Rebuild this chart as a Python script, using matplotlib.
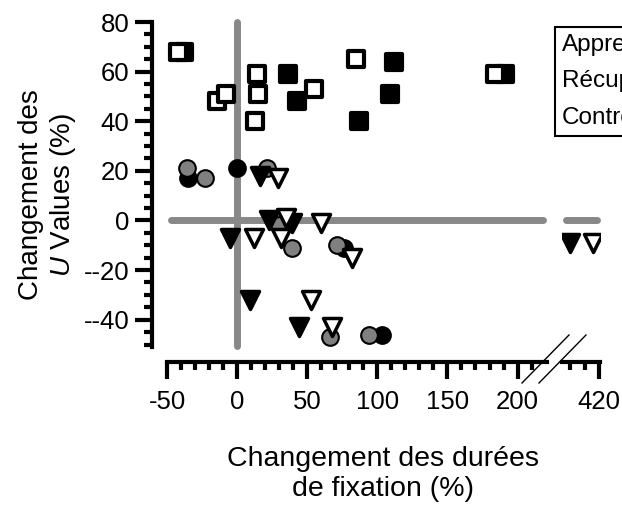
import numpy as np
import matplotlib
matplotlib.use("Agg")
import matplotlib.pyplot as plt
from matplotlib.markers import MarkerStyle
from matplotlib.lines import Line2D

plt.rcParams['font.family'] = ['Liberation Sans', 'DejaVu Sans']
plt.rcParams['mathtext.fontset'] = 'custom'
plt.rcParams['mathtext.rm'] = 'Liberation Sans'
plt.rcParams['mathtext.it'] = 'Liberation Sans:italic'

# data (x: change in fixation durations %, y: change in U values %)
open_sq_x = [-42, -14, -8, 14, 15, 13, 55, 85, 184]
open_sq_y = [68, 48, 51, 59, 51, 40, 53, 65, 59]
fill_sq_x = [-38, 36, 43, 87, 109, 112, 191]
fill_sq_y = [68, 59, 48, 40, 51, 64, 59]
gray_c_x = [-36, -23, 21, 30, 39, 71, 66, 94]
gray_c_y = [21, 17, 21, -2, -11, -10, -47, -46]
black_c_x = [-35, 0, 76, 103]
black_c_y = [17, 21, -11, -46]
black_t_x = [16, 23, 39, -5, 9, 44, 400]
black_t_y = [18, 0, -1, -7, -32, -43, -9]
white_t_x = [29, 35, 31, 60, 12, 82, 53, 68, 416]
white_t_y = [17, 1, -7, -1, -7, -15, -32, -43, -9]

legend_labels = ["Apprentissage", "Récupération", "Contrôle"]
x_major = [-50, 0, 50, 100, 150, 200]
x_labels = ["-50", "0", "50", "100", "150", "200"]
y_major = [-40, -20, 0, 20, 40, 60, 80]
y_labels = ["--40", "--20", "0", "20", "40", "60", "80"]

W, H = 622, 505
fig = plt.figure(figsize=(W / 100, H / 100), dpi=100)
ax = fig.add_axes([167 / W, 1 - 347 / H, 380 / W, 325 / H])
ax2 = fig.add_axes([562 / W, 1 - 347 / H, 38 / W, 325 / H])
ax.set_xlim(-50, 221)
ax2.set_xlim(394, 421)
for a in (ax, ax2):
    a.set_ylim(-51, 80)
    a.patch.set_alpha(0)
    for s in ['top', 'right']:
        a.spines[s].set_visible(False)
    a.spines['bottom'].set_position(('outward', 11))
    a.spines['bottom'].set_linewidth(3)
    a.spines['bottom'].set_capstyle('projecting')
    a.tick_params(which='major', length=12, width=3, labelsize=18.5, pad=8)
    a.tick_params(which='minor', length=6, width=3)
ax.spines['left'].set_position(('outward', 11))
ax.spines['left'].set_linewidth(3)
ax.spines['left'].set_capstyle('projecting')
ax2.spines['left'].set_visible(False)
ax2.tick_params(axis='y', left=False, labelleft=False, which='both')

ax.set_xticks(x_major, x_labels)
ax.set_xticks([v for v in range(-40, 211, 10) if v % 50], minor=True)
ax.set_yticks(y_major, y_labels)
ax.set_yticks([v for v in range(-50, 81, 5) if v % 20], minor=True)
ax.tick_params(axis='y', which='major', pad=4)
ax2.set_xticks([420], ["420"])
ax2.set_xticks([400, 410], minor=True)

# reference lines
gray = '#888888'
ax.plot([-47.5, 218.5], [0, 0], color=gray, lw=5, solid_capstyle='round', zorder=1)
ax.plot([0, 0], [-50.5, 80], color=gray, lw=5, solid_capstyle='round', zorder=1, clip_on=False)
ax2.plot([396.5, 419], [0, 0], color=gray, lw=5, solid_capstyle='round', zorder=1, clip_on=False)

sq = MarkerStyle('s', joinstyle='round')
tri = MarkerStyle('v', joinstyle='round')


def draw(xs, ys, **kw):
    xs = np.array(xs)
    ys = np.array(ys)
    left = xs < 221
    ax.plot(xs[left], ys[left], ls='none', **kw)
    ax2.plot(xs[~left], ys[~left], ls='none', **kw)


draw(fill_sq_x, fill_sq_y, marker=sq, ms=12, mfc='black', mec='black', mew=3, zorder=3)
draw(open_sq_x, open_sq_y, marker=sq, ms=12, mfc='white', mec='black', mew=3, zorder=4)
draw(black_c_x, black_c_y, marker='o', ms=12, mfc='black', mec='black', mew=1.5, zorder=3)
draw(gray_c_x, gray_c_y, marker='o', ms=12, mfc='#808080', mec='black', mew=1.5, zorder=4)
draw(black_t_x, black_t_y, marker=tri, ms=13, mfc='black', mec='black', mew=2.5, zorder=5)
draw(white_t_x, white_t_y, marker=tri, ms=13, mfc='white', mec='black', mew=2.5, zorder=6)

# axis break marks
for x0 in (522, 539):
    fig.add_artist(Line2D([x0 / W, (x0 + 47) / W], [1 - 383 / H, 1 - 335 / H],
                          color='black', lw=1))

# axis titles
fig.text(48 / W, 1 - 195 / H, "Changement des\n$\\mathit{U}$ Values (%)", rotation=90,
         ha='center', va='center', fontsize=20, multialignment='center')
fig.text(383 / W, 1 - 474 / H, "Changement des durées\nde fixation (%)",
         ha='center', va='center', fontsize=20.5, multialignment='center')

# legend box (cut off at the right edge)
fig.text(562 / W, 1 - 34 / H, "\n".join(legend_labels), ha='left', va='top', fontsize=17.5,
         linespacing=1.85,
         bbox=dict(boxstyle='square,pad=0.3', fc='white', ec='black', lw=1.5))

fig.savefig("out.png", dpi=100)
